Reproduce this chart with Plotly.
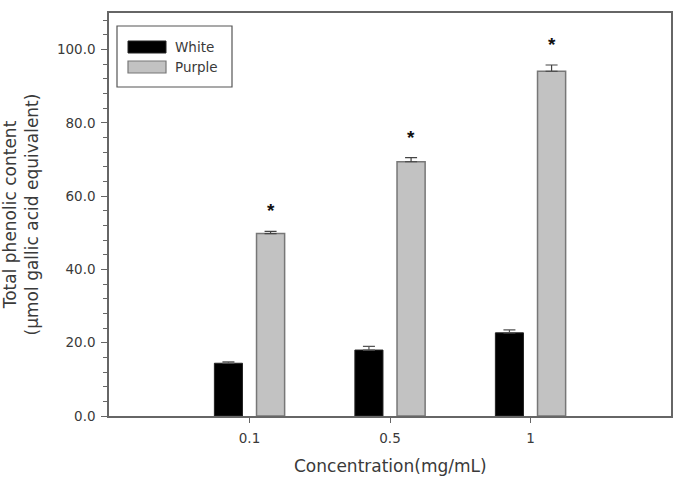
import plotly.graph_objects as go

categories = ["0.1", "0.5", "1"]
white_vals = [14.4, 18.0, 22.7]
white_err = [0.4, 1.0, 0.8]
purple_vals = [49.8, 69.4, 94.1]
purple_err = [0.6, 1.1, 1.7]
sig_marks = ["*", "*", "*"]
y_ticks = [0, 20, 40, 60, 80, 100]
y_tick_text = ["0.0", "20.0", "40.0", "60.0", "80.0", "100.0"]
x_title = "Concentration(mg/mL)"
y_title = "Total phenolic content<br>(µmol gallic acid equivalent)"

axis_color = "#666666"
text_color = "#3a3a3a"
font_family = "DejaVu Sans, Arial, sans-serif"

fig = go.Figure()
fig.add_trace(go.Bar(
    x=categories, y=white_vals, name="White",
    marker=dict(color="black", line=dict(color="#222222", width=1)),
    width=0.2, offset=-0.25,
    error_y=dict(type="data", array=white_err, arrayminus=[0]*3, symmetric=False,
                 color="#555555", thickness=1.2, width=6),
))
fig.add_trace(go.Bar(
    x=categories, y=purple_vals, name="Purple",
    marker=dict(color="#c2c2c2", line=dict(color="#777777", width=1.5)),
    width=0.2, offset=0.05,
    error_y=dict(type="data", array=purple_err, arrayminus=[0]*3, symmetric=False,
                 color="#444444", thickness=1.2, width=6),
))

# significance stars above purple bars
for i, (v, e, s) in enumerate(zip(purple_vals, purple_err, sig_marks)):
    fig.add_annotation(x=i + 0.15, y=v + e, text="<b>" + s + "</b>", showarrow=False,
                       yanchor="bottom", yshift=8,
                       font=dict(size=19, color="#111111", family="Liberation Sans, Arial"))

# custom legend
fig.add_shape(type="rect", xref="paper", yref="paper",
              x0=(117-109)/562, x1=(232-109)/562, y0=(416-87)/403, y1=(416-26)/403,
              line=dict(color="#555555", width=1.2), fillcolor="white")
fig.add_shape(type="rect", xref="paper", yref="paper",
              x0=(128-109)/562, x1=(166-109)/562, y0=(416-53)/403, y1=(416-41)/403,
              line=dict(color="#222222", width=1), fillcolor="black")
fig.add_shape(type="rect", xref="paper", yref="paper",
              x0=(128-109)/562, x1=(166-109)/562, y0=(416-73)/403, y1=(416-61)/403,
              line=dict(color="#777777", width=1.2), fillcolor="#c2c2c2")
for name, yc in [("White", 47), ("Purple", 67)]:
    fig.add_annotation(xref="paper", yref="paper", x=(173-109)/562, y=(416-yc)/403,
                       text=name, showarrow=False, xanchor="left", yanchor="middle",
                       font=dict(size=13.5, color=text_color, family=font_family))

# x axis title, kept fully inside the page
fig.add_annotation(xref="paper", yref="paper", x=0.5, y=(416-478)/403,
                   text=x_title, showarrow=False, xanchor="center", yanchor="bottom",
                   font=dict(size=17, color=text_color, family=font_family))

fig.update_layout(
    width=675, height=479,
    margin=dict(l=109, r=4, t=13, b=63, autoexpand=False),
    plot_bgcolor="white", paper_bgcolor="white",
    showlegend=False,
    font=dict(family=font_family, color=text_color, size=13.5),
    xaxis=dict(
        type="category", range=[-1, 3], automargin=False,
        showline=True, linecolor=axis_color, linewidth=1.5, mirror=True,
        ticks="outside", ticklen=5, tickcolor=axis_color, tickwidth=1,
        showgrid=False, zeroline=False, ticklabelstandoff=4,
        tickfont=dict(size=13.5, color=text_color),
    ),
    yaxis=dict(
        range=[0, 110], automargin=False,
        tickvals=y_ticks, ticktext=y_tick_text,
        showline=True, linecolor=axis_color, linewidth=1.5, mirror=True,
        ticks="outside", ticklen=6, tickcolor=axis_color, tickwidth=1,
        minor=dict(dtick=4, ticks="outside", ticklen=4, tickcolor=axis_color, tickwidth=1),
        showgrid=False, zeroline=False, ticklabelstandoff=3,
        tickfont=dict(size=13.5, color=text_color),
        title=dict(text=y_title, font=dict(size=17, color=text_color), standoff=16),
    ),
)

fig.write_html("out.html")
